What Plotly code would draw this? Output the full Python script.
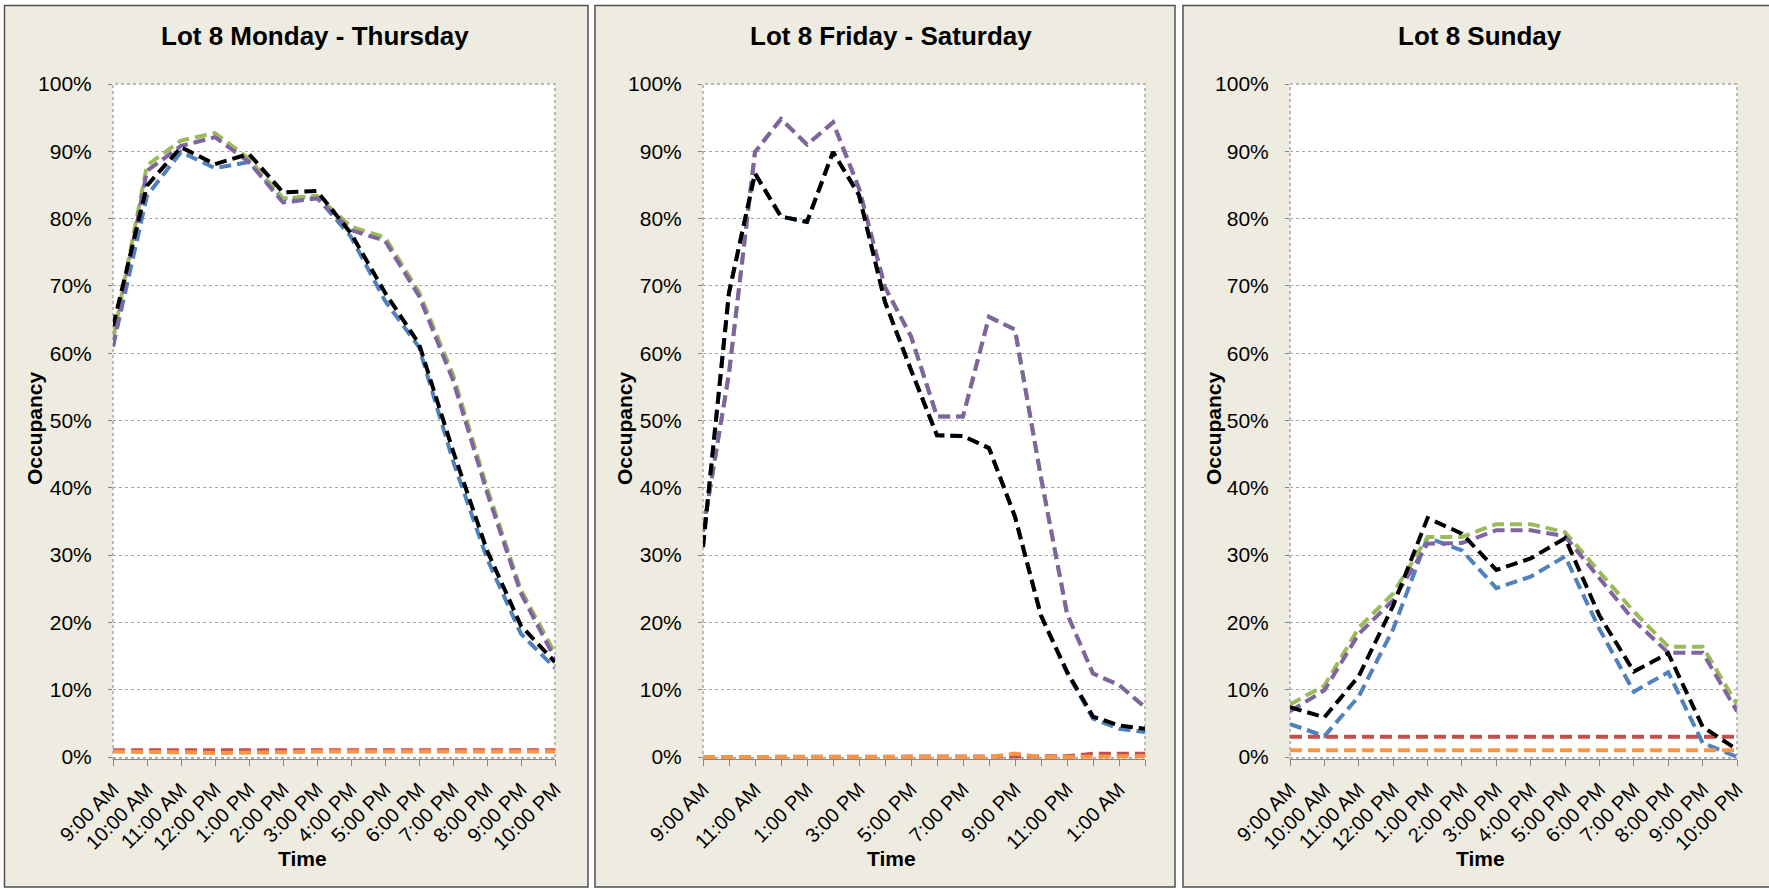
import plotly.graph_objects as go

W, H = 1769, 889

# ---------------- Data ----------------
hours_weekday = ["9:00 AM", "10:00 AM", "11:00 AM", "12:00 PM", "1:00 PM", "2:00 PM", "3:00 PM",
                 "4:00 PM", "5:00 PM", "6:00 PM", "7:00 PM", "8:00 PM", "9:00 PM", "10:00 PM"]
hours_fri_sat = ["9:00 AM", "10:00 AM", "11:00 AM", "12:00 PM", "1:00 PM", "2:00 PM", "3:00 PM",
                 "4:00 PM", "5:00 PM", "6:00 PM", "7:00 PM", "8:00 PM", "9:00 PM", "10:00 PM",
                 "11:00 PM", "12:00 AM", "1:00 AM", "2:00 AM"]
hours_sunday = ["9:00 AM", "10:00 AM", "11:00 AM", "12:00 PM", "1:00 PM", "2:00 PM", "3:00 PM",
                "4:00 PM", "5:00 PM", "6:00 PM", "7:00 PM", "8:00 PM", "9:00 PM", "10:00 PM"]

y_tick_values = [0, 10, 20, 30, 40, 50, 60, 70, 80, 90, 100]
y_tick_labels = ["0%", "10%", "20%", "30%", "40%", "50%", "60%", "70%", "80%", "90%", "100%"]

panel_titles = ["Lot 8 Monday - Thursday", "Lot 8 Friday - Saturday", "Lot 8 Sunday"]

# Monday - Thursday (occupancy, %)
mt_blue = [61.0, 83.4, 89.9, 87.5, 88.4, 82.9, 83.2, 77.3, 67.8, 60.9, 44.0, 29.5, 18.3, 13.2]
mt_red = [1.0, 1.0, 1.0, 1.0, 1.0, 1.0, 1.0, 1.0, 1.0, 1.0, 1.0, 1.0, 1.0, 1.0]
mt_green = [62.0, 87.9, 91.6, 92.7, 88.9, 83.0, 83.4, 78.8, 77.2, 69.1, 56.8, 40.0, 24.8, 15.4]
mt_purple = [61.0, 87.1, 90.8, 92.1, 88.4, 82.4, 83.0, 78.3, 76.7, 68.5, 56.0, 39.3, 24.3, 14.6]
mt_orange = [0.8, 0.8, 0.7, 0.6, 0.6, 0.7, 0.8, 0.8, 0.8, 0.8, 0.9, 0.9, 0.9, 0.8]
mt_black = [64.0, 84.9, 90.6, 88.1, 89.6, 83.9, 84.1, 77.8, 69.0, 61.4, 45.5, 30.7, 19.5, 14.1]

# Friday - Saturday
fs_blue = [31.2, 69.0, 86.7, 80.3, 79.5, 89.9, 83.5, 67.6, 57.5, 47.8, 47.7, 45.9, 35.7, 21.0,
           12.5, 5.7, 4.2, 3.7]
fs_red = [0.0, 0.0, 0.0, 0.0, 0.0, 0.0, 0.0, 0.0, 0.0, 0.0, 0.0, 0.0, 0.1, 0.0,
          0.1, 0.5, 0.5, 0.5]
fs_green = [33.5, 57.0, 89.9, 94.8, 91.0, 94.3, 84.5, 69.8, 62.5, 50.6, 50.6, 65.4, 63.5, 41.5,
            21.3, 12.4, 10.7, 7.4]
fs_purple = [33.5, 57.0, 89.9, 94.8, 91.0, 94.3, 84.5, 69.8, 62.5, 50.6, 50.6, 65.4, 63.5, 41.5,
             21.3, 12.4, 10.7, 7.4]
fs_orange = [0.0, 0.0, 0.0, 0.0, 0.0, 0.0, 0.0, 0.0, 0.0, 0.0, 0.0, 0.0, 0.5, 0.0,
             0.0, 0.1, 0.1, 0.1]
fs_black = [31.2, 69.0, 86.7, 80.3, 79.5, 89.9, 83.5, 67.6, 57.5, 47.8, 47.7, 45.9, 35.7, 21.0,
            12.7, 6.0, 4.7, 4.2]

# Sunday
su_blue = [4.9, 3.1, 9.0, 19.0, 32.6, 30.7, 25.1, 26.8, 29.8, 19.0, 9.7, 12.6, 2.1, 0.0]
su_red = [3.0, 3.0, 3.0, 3.0, 3.0, 3.0, 3.0, 3.0, 3.0, 3.0, 3.0, 3.0, 3.0, 3.0]
su_green = [7.8, 10.6, 19.2, 24.3, 32.7, 32.7, 34.6, 34.6, 33.4, 27.5, 21.6, 16.4, 16.4, 7.8]
su_purple = [6.8, 9.9, 18.3, 23.3, 31.7, 31.8, 33.7, 33.7, 32.8, 26.5, 20.3, 15.5, 15.5, 6.8]
su_orange = [1.0, 1.0, 1.0, 1.0, 1.0, 1.0, 1.0, 1.0, 1.0, 1.0, 1.0, 1.0, 1.0, 1.0]
su_black = [7.4, 5.9, 12.0, 22.5, 35.5, 33.2, 27.8, 29.5, 32.5, 21.0, 12.7, 15.4, 4.5, 1.1]

# ---------------- Styling ----------------
FONT = "Liberation Sans, Arial, sans-serif"
BLUE, RED, GREEN, PURPLE, ORANGE, BLACK = "#4F81BD", "#C0504D", "#9BBB59", "#8064A2", "#F79646", "#000000"
PANEL_BG = "#EEECE1"
GRID = "#A6A6A6"
DASH = "12px,6px"
LW = 4
YTICK_SIZE = 21
XTICK_SIZE = 20
AXT_SIZE = 21

panels = [
    dict(cats=hours_weekday, labels=hours_weekday,
         series=[(mt_blue, BLUE), (mt_red, RED), (mt_green, GREEN), (mt_purple, PURPLE),
                 (mt_orange, ORANGE), (mt_black, BLACK)]),
    dict(cats=hours_fri_sat,
         labels=[lab if i % 2 == 0 else "" for i, lab in enumerate(hours_fri_sat)],
         series=[(fs_blue, BLUE), (fs_red, RED), (fs_green, GREEN), (fs_purple, PURPLE),
                 (fs_orange, ORANGE), (fs_black, BLACK)]),
    dict(cats=hours_sunday, labels=hours_sunday,
         series=[(su_blue, BLUE), (su_red, RED), (su_green, GREEN), (su_purple, PURPLE),
                 (su_orange, ORANGE), (su_black, BLACK)]),
]

# pixel geometry
frames = [(4.5, 588), (595, 1175), (1183, 1790)]
plot_x = [(113, 555), (703, 1145), (1290, 1737)]
title_x = [315, 891, 1480]
ytitle_x = [34, 624, 1213]
time_x = [302, 891, 1480]
Y_TOP, Y_ZERO = 84, 757
Y_MIN = -0.3
y_bottom_px = Y_ZERO + (0 - Y_MIN) * (Y_ZERO - Y_TOP) / 100.0


def fx(p):
    return p / W


def fy(p):
    return 1 - p / H


fig = go.Figure()
shapes = []
annotations = []

for k, pnl in enumerate(panels):
    xa = "x" if k == 0 else f"x{k+1}"
    ya = "y" if k == 0 else f"y{k+1}"
    xs = list(range(len(pnl["cats"])))
    for vals, col in pnl["series"]:
        fig.add_trace(go.Scatter(
            x=xs, y=vals, xaxis=xa, yaxis=ya, mode="lines",
            line=dict(color=col, width=LW, dash=DASH),
            showlegend=False, hoverinfo="skip"))

    x0, x1 = plot_x[k]
    fx0, fx1 = frames[k]
    shapes.append(dict(type="rect", xref="paper", yref="paper",
                       x0=fx(fx0), x1=fx(fx1), y0=fy(887), y1=fy(5.5),
                       fillcolor=PANEL_BG, line=dict(color="#505050", width=1.5), layer="below"))
    shapes.append(dict(type="rect", xref="paper", yref="paper",
                       x0=fx(x0), x1=fx(x1), y0=fy(y_bottom_px), y1=fy(Y_TOP),
                       fillcolor="white", line=dict(width=0), layer="below"))
    shapes.append(dict(type="rect", xref="paper", yref="paper",
                       x0=fx(x0), x1=fx(x1), y0=fy(y_bottom_px), y1=fy(Y_TOP),
                       fillcolor="rgba(0,0,0,0)", line=dict(color=GRID, width=1.5, dash="dot"),
                       layer="below"))

    axis_x = dict(domain=[fx(x0), fx(x1)], anchor=ya, range=[0, len(xs) - 1],
                  tickmode="array", tickvals=xs, ticktext=pnl["labels"], tickangle=-45,
                  ticks="outside", ticklen=6, tickcolor="#868686", tickwidth=1,
                  showline=True, linecolor="#868686", linewidth=1, showgrid=False,
                  zeroline=False, tickfont=dict(family=FONT, size=XTICK_SIZE, color="black"),
                  ticklabelstandoff=4, fixedrange=True, automargin=False)
    axis_y = dict(domain=[fy(y_bottom_px), fy(Y_TOP)], anchor=xa, range=[Y_MIN, 100],
                  tickmode="array", tickvals=y_tick_values, ticktext=y_tick_labels,
                  ticks="outside", ticklen=4, tickcolor="#868686", tickwidth=1,
                  showline=False, showgrid=True, gridcolor=GRID, gridwidth=1, griddash="dot",
                  zeroline=False, tickfont=dict(family=FONT, size=YTICK_SIZE, color="black"),
                  ticklabelstandoff=12, fixedrange=True, automargin=False)
    fig.layout["xaxis" if k == 0 else f"xaxis{k+1}"] = axis_x
    fig.layout["yaxis" if k == 0 else f"yaxis{k+1}"] = axis_y

    annotations.append(dict(text="<b>" + panel_titles[k] + "</b>", xref="paper", yref="paper",
                            x=fx(title_x[k]), y=fy(36), xanchor="center", yanchor="middle",
                            showarrow=False, font=dict(family=FONT, size=26, color="black")))
    annotations.append(dict(text="<b>Occupancy</b>", xref="paper", yref="paper",
                            x=fx(ytitle_x[k]), y=fy(428), xanchor="center", yanchor="middle",
                            textangle=-90, showarrow=False,
                            font=dict(family=FONT, size=AXT_SIZE, color="black")))
    annotations.append(dict(text="<b>Time</b>", xref="paper", yref="paper",
                            x=fx(time_x[k]), y=fy(858), xanchor="center", yanchor="middle",
                            showarrow=False, font=dict(family=FONT, size=AXT_SIZE, color="black")))

fig.update_layout(width=W, height=H, margin=dict(l=0, r=0, t=0, b=0),
                  paper_bgcolor="white", plot_bgcolor="rgba(0,0,0,0)",
                  shapes=shapes, annotations=annotations, showlegend=False)

fig.write_html("out.html", config={"displayModeBar": False},
               post_script="document.body.style.margin='0px';document.body.style.overflow='hidden';")
